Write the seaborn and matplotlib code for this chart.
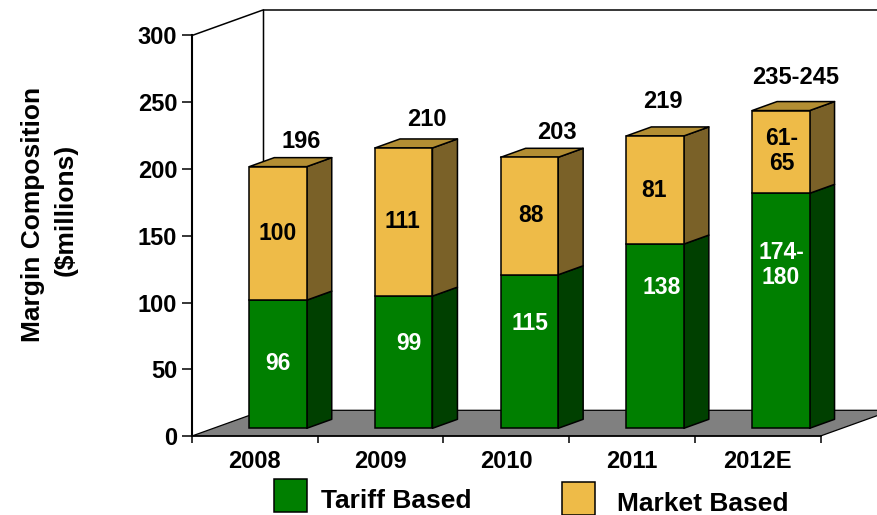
import numpy as np
import pandas as pd
import matplotlib
matplotlib.use("Agg")
import matplotlib.pyplot as plt
from matplotlib.patches import Polygon, Patch
from matplotlib.legend_handler import HandlerPatch
import seaborn as sns

years = ["2008", "2009", "2010", "2011", "2012E"]
tariff = [96, 99, 115, 138, 176]
market = [100, 111, 88, 81, 62]
tariff_labels = ["96", "99", "115", "138", "174-\n180"]
market_labels = ["100", "111", "88", "81", "61-\n65"]
total_labels = ["196", "210", "203", "219", "235-245"]
y_ticks = [0, 50, 100, 150, 200, 250, 300]

W, H = 877, 515
sns.set_style("white")
plt.rcParams["font.family"] = ["Liberation Sans", "DejaVu Sans"]
plt.rcParams["font.weight"] = "bold"
plt.rcParams["text.color"] = "black"

GREEN, GREEN_SIDE = "#007F00", "#004000"
ORANGE, ORANGE_SIDE, ORANGE_TOP = "#EEBB48", "#7A6128", "#B38E33"
FLOOR = "#808080"

fig = plt.figure(figsize=(W / 100, H / 100), dpi=100)
ax = fig.add_axes([192 / W, (H - 436) / H, 628.5 / W, 400.5 / H])

df = pd.DataFrame({"year": years, "tariff": tariff, "market": market})
t = df["tariff"].to_numpy(float)
m = df["market"].to_numpy(float)

# depth projection, in axis units
px_x = 628.5 / 5
px_y = 400.5 / 300
bar_w = 57.5 / px_x
base = 7.7 / px_y
dx, dy = 25 / px_x, 9 / px_y
wall_dx, wall_dy = 71.5 / px_x, 25.7 / px_y
x_left = -(278 - 192) / px_x
x_right = x_left + 5

# floor and back wall
ax.add_patch(Polygon([(x_left, 0), (x_right, 0), (x_right + wall_dx, wall_dy),
                      (x_left + wall_dx, wall_dy)], closed=True, fc=FLOOR, ec="black",
                     lw=0.9, zorder=0.5, clip_on=False))
ax.plot([x_left, x_left + wall_dx, x_left + wall_dx], [300, 300 + wall_dy, wall_dy],
        color="black", lw=1.1, clip_on=False, zorder=0.6)
ax.plot([x_left + wall_dx, x_right + wall_dx], [300 + wall_dy] * 2,
        color="black", lw=1.1, clip_on=False, zorder=0.6)

sns.barplot(data=df, x="year", y="tariff", color=GREEN, saturation=1, width=bar_w,
            bottom=base, edgecolor="black", linewidth=1.1, errorbar=None, ax=ax, zorder=3)
sns.barplot(data=df, x="year", y="market", color=ORANGE, saturation=1, width=bar_w,
            bottom=base + t, edgecolor="black", linewidth=1.1, errorbar=None, ax=ax, zorder=3)

for i in range(len(years)):
    r = i + bar_w / 2
    l = i - bar_w / 2
    y0, y1, y2 = base, base + t[i], base + t[i] + m[i]
    for poly, col in (
        ([(r, y0), (r + dx, y0 + dy), (r + dx, y1 + dy), (r, y1)], GREEN_SIDE),
        ([(r, y1), (r + dx, y1 + dy), (r + dx, y2 + dy), (r, y2)], ORANGE_SIDE),
        ([(l, y2), (l + dx, y2 + dy), (r + dx, y2 + dy), (r, y2)], ORANGE_TOP),
    ):
        ax.add_patch(Polygon(poly, closed=True, fc=col, ec="black", lw=1.1, zorder=2.5,
                             joinstyle="round", clip_on=False))

ax.set_xlim(x_left, x_right)
ax.set_ylim(0, 300)
ax.set_xlabel("")
ax.set_ylabel("")
for s in ("top", "right"):
    ax.spines[s].set_visible(False)
ax.spines["left"].set_linewidth(1.5)
ax.spines["left"].set_color("black")
ax.spines["bottom"].set_linewidth(1.1)
ax.spines["bottom"].set_color("black")
ax.patch.set_alpha(0)

ax.set_yticks(y_ticks)
ax.tick_params(axis="y", left=True, length=7.2, width=1.1, color="black", pad=3.5,
               labelsize=17, labelcolor="black")
ax.set_xticks([x_left + k for k in range(6)], labels=[])
ax.tick_params(axis="x", which="major", bottom=True, length=5.2, width=1.1, color="black")
ax.set_xticks([x_left + k + 0.5 for k in range(5)], labels=years, minor=True)
ax.tick_params(axis="x", which="minor", bottom=False, length=0, pad=10, labelsize=17,
               labelcolor="black")

def put(x, y, s, **kw):
    fig.text(x / W, 1 - y / H, s, ha="center", va="center", fontweight="bold",
             linespacing=1.12, **kw)

tariff_pos = [(278, 364), (409, 344), (530, 324), (662, 287), (781, 265)]
market_pos = [(278, 233), (402, 222), (531, 216), (654, 190), (782, 151)]
total_pos = [(301, 141), (427, 119), (557, 132), (663, 102), (796, 78)]
for lab, p in zip(tariff_labels, tariff_pos):
    put(*p, lab, color="white", fontsize=16.5, zorder=5)
for lab, p in zip(market_labels, market_pos):
    put(*p, lab, color="black", fontsize=16.5, zorder=5)
for lab, p in zip(total_labels, total_pos):
    put(*p, lab, color="black", fontsize=17, zorder=5)

put(33, 214, "Margin Composition", rotation=90, fontsize=19)
put(66, 210, "($millions)", rotation=90, fontsize=19)

def legend_entry(label, color, x, y, textpad):
    handle = Patch(fc=color, ec="black", lw=1.1, label=label)
    leg = fig.legend(handles=[handle],
                     handler_map={Patch: HandlerPatch(ypad=0.314)},
                     loc="center left", bbox_to_anchor=(x / W, 1 - y / H),
                     frameon=False, fontsize=19, handlelength=1.25, handleheight=2.03,
                     handletextpad=textpad, borderpad=0, borderaxespad=0,
                     labelcolor="black")
    return leg

legend_entry("Tariff Based", GREEN, 274, 499.5, 0.53)
legend_entry("Market Based", ORANGE, 562, 502.5, 0.83)

fig.savefig("out.png", dpi=100)
